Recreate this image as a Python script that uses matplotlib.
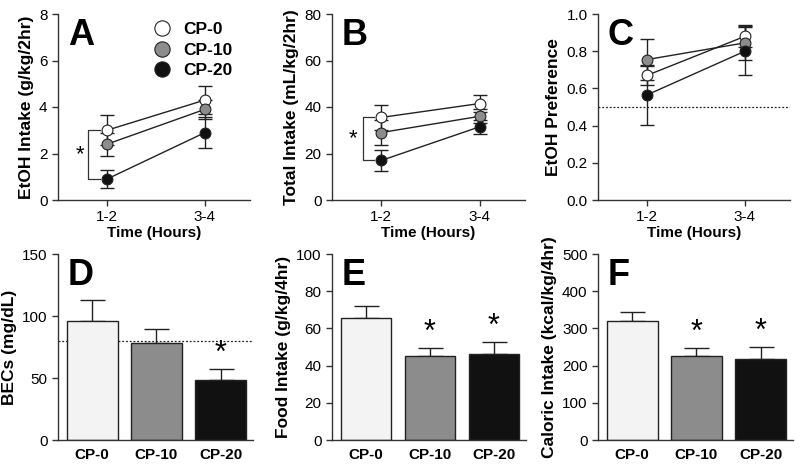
import numpy as np
import matplotlib
matplotlib.use("Agg")
import matplotlib.pyplot as plt
from matplotlib.lines import Line2D

plt.rcParams["font.family"] = ["Liberation Sans", "DejaVu Sans"]

groups = ["CP-0", "CP-10", "CP-20"]
times = ["1-2", "3-4"]
marker_colors = ["white", "#8c8c8c", "#111111"]
bar_colors = ["#f3f3f3", "#8c8c8c", "#111111"]

# line panels: mean per time bin, sem
etoh_mean = {"CP-0": [3.0, 4.3], "CP-10": [2.4, 3.9], "CP-20": [0.9, 2.9]}
etoh_err = {"CP-0": [0.65, 0.6], "CP-10": [0.5, 0.4], "CP-20": [0.4, 0.65]}
total_mean = {"CP-0": [35.5, 41.5], "CP-10": [29.0, 36.0], "CP-20": [17.0, 31.5]}
total_err = {"CP-0": [5.5, 3.5], "CP-10": [5.5, 3.0], "CP-20": [4.5, 3.0]}
pref_mean = {"CP-0": [0.67, 0.88], "CP-10": [0.755, 0.845], "CP-20": [0.565, 0.80]}
pref_err = {"CP-0": [0.05, 0.06], "CP-10": [0.11, 0.09], "CP-20": [0.16, 0.13]}

# bar panels
bec = [96, 78, 48.5]
bec_err = [17, 11.5, 8.5]
food = [65.5, 45.2, 46.2]
food_err = [6.5, 4.4, 6.3]
cal = [320, 226, 219]
cal_err = [24, 22, 31]

fig = plt.figure(figsize=(8, 4.66), dpi=100)

W, H = 800, 466
def px_axes(l, r, t, b):
    return fig.add_axes([l / W, 1 - b / H, (r - l) / W, (b - t) / H])

def style(ax):
    for s in ["top", "right"]:
        ax.spines[s].set_visible(False)
    for s in ["left", "bottom"]:
        ax.spines[s].set_color("#333333")
        ax.spines[s].set_linewidth(1.0)
    ax.tick_params(direction="out", length=4, width=1.0, color="#333333", labelsize=11)

def line_panel(ax, means, errs, ylim, yticks, ylabel, letter):
    style(ax)
    x = np.arange(len(times))
    for g, c in zip(groups, marker_colors):
        ax.errorbar(x, means[g], yerr=errs[g], fmt="none", ecolor="#222222",
                    elinewidth=1.0, capsize=5, capthick=1.0, zorder=2)
        ax.plot(x, means[g], "-o", color="#222222", lw=1.0, markersize=7.8,
                markerfacecolor=c, markeredgecolor="#222222", markeredgewidth=0.8, zorder=3)
    ax.set_xlim(-0.5, 1.46)
    ax.set_ylim(*ylim)
    ax.set_yticks(yticks)
    ax.set_xticks(x)
    ax.set_xticklabels(times)
    ax.set_xlabel("Time (Hours)", fontsize=11, fontweight="bold", labelpad=1)
    ax.set_ylabel(ylabel, fontsize=12.5, fontweight="bold")
    ax.text(0.05, 0.98, letter, transform=ax.transAxes, fontsize=26,
            fontweight="bold", va="top", ha="left")

def bar_panel(ax, vals, errs, ylim, yticks, ylabel, letter, stars, hline=None):
    style(ax)
    x = np.arange(len(groups))
    if hline is not None:
        ax.axhline(hline, color="#222222", lw=0.9, ls=(0, (1.5, 1.5)), zorder=0)
    ax.bar(x, vals, width=0.79, color=bar_colors, edgecolor="#222222", linewidth=1.0, zorder=2)
    ax.errorbar(x, vals, yerr=[np.zeros(len(vals)), errs], fmt="none", ecolor="#222222",
                elinewidth=1.0, capsize=9, capthick=1.0, zorder=1)
    for i in stars:
        ax.text(x[i], vals[i] + errs[i], "*", ha="center", va="bottom", fontsize=22)
    ax.set_xlim(-0.53, 2.5)
    ax.set_ylim(*ylim)
    ax.set_yticks(yticks)
    ax.set_xticks(x)
    ax.set_xticklabels(groups, fontweight="bold")
    ax.tick_params(axis="x", length=0, pad=6)
    ax.set_ylabel(ylabel, fontsize=12.5, fontweight="bold")
    ax.text(0.05, 0.98, letter, transform=ax.transAxes, fontsize=26,
            fontweight="bold", va="top", ha="left")

axA = px_axes(58, 250, 14, 200)
axB = px_axes(332, 525, 14, 200)
axC = px_axes(598, 790, 14, 200)
axD = px_axes(58, 253, 254, 440)
axE = px_axes(332, 526, 254, 440)
axF = px_axes(598, 793, 254, 440)

line_panel(axA, etoh_mean, etoh_err, (0, 8), [0, 2, 4, 6, 8], "EtOH Intake (g/kg/2hr)", "A")
line_panel(axB, total_mean, total_err, (0, 80), [0, 20, 40, 60, 80], "Total Intake (mL/kg/2hr)", "B")
line_panel(axC, pref_mean, pref_err, (0, 1.0), [0.0, 0.2, 0.4, 0.6, 0.8, 1.0], "EtOH Preference", "C")
axC.axhline(0.5, color="#222222", lw=0.9, ls=(0, (1.5, 1.5)), zorder=0)

# significance brackets at first time bin
def bracket(ax, top, bottom, xpos, star_x):
    ax.plot([xpos + 0.12, xpos, xpos, xpos + 0.12], [top, top, bottom, bottom],
            color="#333333", lw=0.9, clip_on=False)
    ax.text(star_x, (top + bottom) / 2, "*", ha="center", va="center", fontsize=16)

bracket(axA, etoh_mean["CP-0"][0], etoh_mean["CP-20"][0], -0.19, -0.28)
bracket(axB, total_mean["CP-0"][0], total_mean["CP-20"][0], -0.19, -0.29)

legend_handles = [Line2D([], [], ls="none", marker="o", markersize=11, markerfacecolor=c,
                         markeredgecolor="#222222", markeredgewidth=0.8) for c in marker_colors]
axA.legend(legend_handles, groups, loc="upper left", bbox_to_anchor=(0.37, 1.04), frameon=False,
           handletextpad=0.2, labelspacing=0.3, prop={"weight": "bold", "size": 12.5})

bar_panel(axD, bec, bec_err, (0, 150), [0, 50, 100, 150], "BECs (mg/dL)", "D", [2], hline=80)
bar_panel(axE, food, food_err, (0, 100), [0, 20, 40, 60, 80, 100], "Food Intake (g/kg/4hr)", "E", [1, 2])
bar_panel(axF, cal, cal_err, (0, 500), [0, 100, 200, 300, 400, 500], "Caloric Intake (kcal/kg/4hr)", "F", [1, 2])

fig.savefig("out.png", dpi=100)
